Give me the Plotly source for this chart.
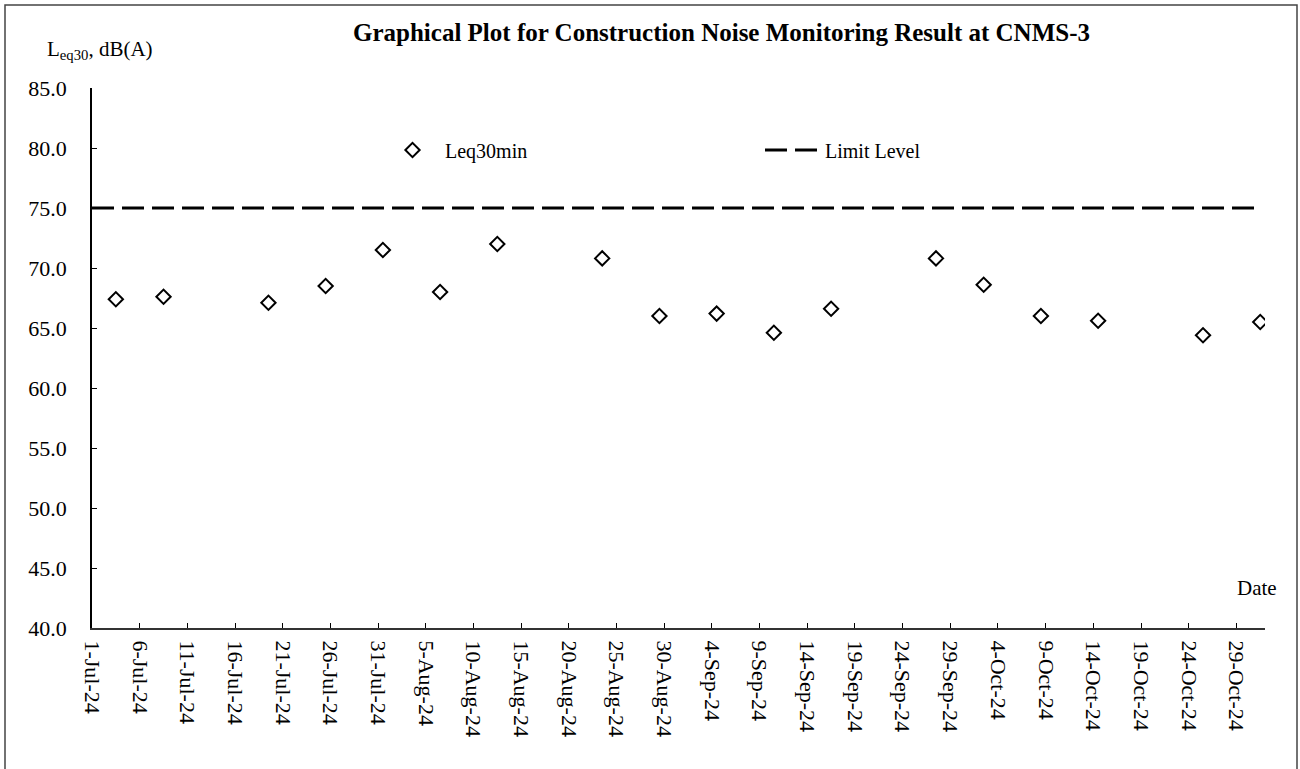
import plotly.graph_objects as go

# ---- data ----
dates = ["2024-07-03 12:00", "2024-07-08 12:00", "2024-07-19 12:00", "2024-07-25 12:00",
         "2024-07-31 12:00", "2024-08-06 12:00", "2024-08-12 12:00", "2024-08-23 12:00",
         "2024-08-29 12:00", "2024-09-04 12:00", "2024-09-10 12:00", "2024-09-16 12:00",
         "2024-09-27 12:00", "2024-10-02 12:00", "2024-10-08 12:00", "2024-10-14 12:00",
         "2024-10-25 12:00", "2024-10-31 12:00"]
leq30 = [67.4, 67.6, 67.1, 68.5, 71.5, 68.0, 72.0, 70.8, 66.0,
         66.2, 64.6, 66.6, 70.8, 68.6, 66.0, 65.6, 64.4, 65.5]
limit_dates = ["2024-07-01", "2024-10-31"]
limit_values = [75, 75]

FONT = "Liberation Serif"

fig = go.Figure()
fig.add_trace(go.Scatter(
    x=dates, y=leq30, mode="markers", name="Leq30min",
    marker=dict(symbol="diamond-open", size=11, color="black", line=dict(width=2, color="black")),
))
fig.add_trace(go.Scatter(
    x=limit_dates, y=limit_values, mode="lines", name="Limit Level",
    line=dict(color="black", width=3, dash="22px,8px"),
))

W, H = 1300, 769
L, R, T, B = 92, 35, 88, 141
pw, ph = W - L - R, H - T - B

def px_x(p):
    return (p - L) / pw

def px_y(p):
    return (H - B - p) / ph

fig.update_layout(
    width=W, height=H,
    margin=dict(l=L, r=R, t=T, b=B),
    paper_bgcolor="white", plot_bgcolor="white",
    font=dict(family=FONT, size=21, color="black"),
    showlegend=True,
    legend=dict(
        orientation="h", x=px_x(380), y=px_y(150), xanchor="left", yanchor="middle",
        itemwidth=55, entrywidth=310, entrywidthmode="pixels",
        font=dict(family=FONT, size=20, color="black"),
        bgcolor="rgba(0,0,0,0)",
    ),
    xaxis=dict(
        type="date", range=["2024-07-01", "2024-11-01"],
        tick0="2024-07-01", dtick=5 * 86400000, tickformat="%-d-%b-%y",
        tickangle=90, ticks="inside", ticklen=5, tickcolor="black",
        showline=True, linecolor="#333333", linewidth=2,
        showgrid=False, zeroline=False, ticklabelstandoff=6,
        tickfont=dict(family=FONT, size=22, color="black"),
    ),
    yaxis=dict(
        range=[40, 85], dtick=5, tickformat=".1f",
        ticks="inside", ticklen=5, tickcolor="black",
        showline=True, linecolor="black", linewidth=1.5,
        showgrid=False, zeroline=False, ticklabelstandoff=19,
        tickfont=dict(family=FONT, size=22, color="black"),
    ),
    annotations=[
        dict(text="<b>Graphical Plot for Construction Noise Monitoring Result at CNMS-3</b>",
             xref="paper", yref="paper", x=px_x(721), y=px_y(33), xanchor="center", yanchor="middle",
             showarrow=False, font=dict(family=FONT, size=25, color="black")),
        dict(text="L<sub>eq30</sub>, dB(A)",
             xref="paper", yref="paper", x=px_x(45), y=px_y(50), xanchor="left", yanchor="middle",
             showarrow=False, font=dict(family=FONT, size=21, color="black")),
        dict(text="Date",
             xref="paper", yref="paper", x=px_x(1279), y=px_y(588), xanchor="right", yanchor="middle",
             showarrow=False, font=dict(family=FONT, size=21, color="black")),
    ],
    shapes=[
        dict(type="rect", xref="paper", yref="paper",
             x0=px_x(5), x1=px_x(1297), y0=px_y(790), y1=px_y(5),
             line=dict(color="#444444", width=1.5), fillcolor="rgba(0,0,0,0)", layer="below"),
    ],
)

fig.write_html("out.html", config={"displayModeBar": False},
               post_script="document.body.style.margin='0';")
